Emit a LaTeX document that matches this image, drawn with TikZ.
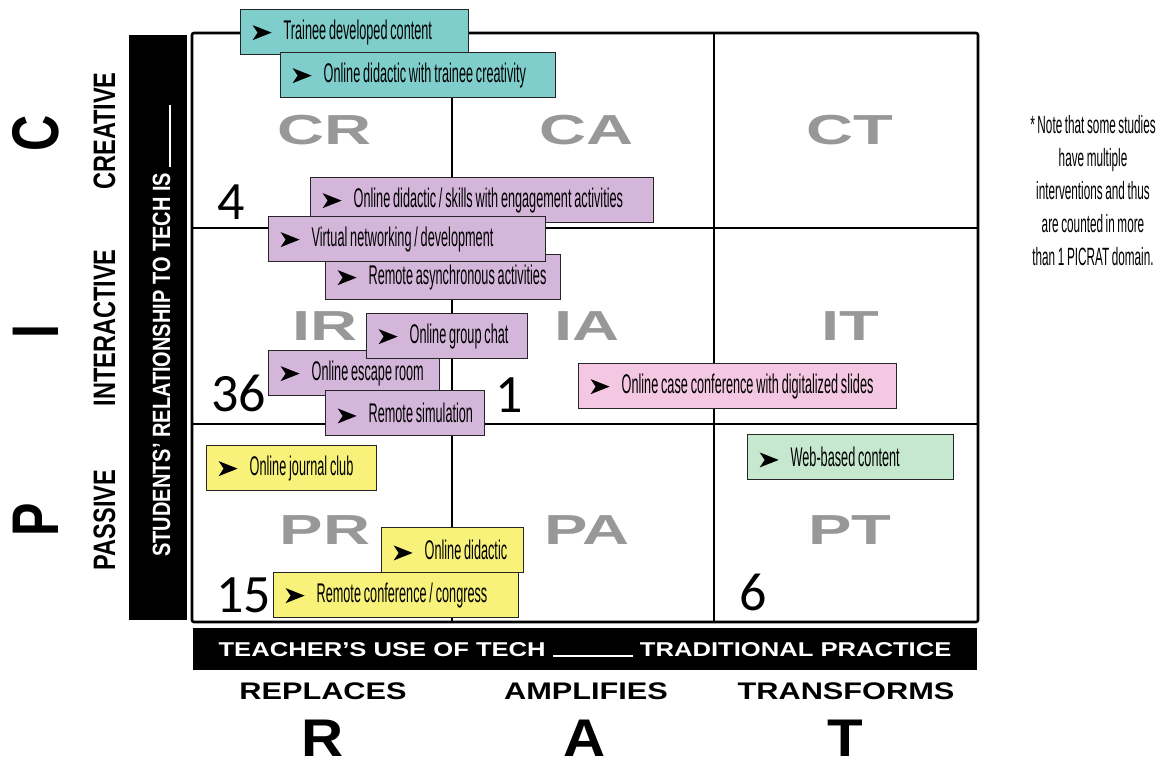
\documentclass[tikz,border=0pt]{standalone}
\usepackage{fontspec}
\setmainfont{Liberation Sans}
\newfontfamily\hand[FakeStretch=0.47,WordSpace=0.8]{Liberation Sans}
\newfontfamily\narrowb[FakeStretch=0.76]{Liberation Sans}
\newfontfamily\barb[FakeStretch=0.8]{Liberation Sans}
\newfontfamily\wideb[FakeStretch=1.28]{Liberation Sans}
\newfontfamily\xwideb[FakeStretch=1.55]{Liberation Sans}
\newfontfamily\ratb[FakeStretch=1.1]{Liberation Sans}
\newfontfamily\numf{Carlito}
\definecolor{tealbox}{RGB}{128,206,204}
\definecolor{purplebox}{RGB}{212,182,218}
\definecolor{pinkbox}{RGB}{244,200,226}
\definecolor{greenbox}{RGB}{198,232,206}
\definecolor{yellowbox}{RGB}{248,242,122}
\definecolor{cellgray}{RGB}{152,152,152}
\newcommand\arw{\tikz[x=1pt,y=1pt,baseline=1pt]{\fill[black] (0,0) -- (19,7.5) -- (0,15) -- (5,7.5) -- cycle;}\hspace{12pt}}
\newcommand\tg[2]{\makebox[#1][l]{\arw #2}}
\tikzset{
  tagbox/.style={draw=black!85, line width=1.3pt, anchor=north west, minimum height=45pt,
    inner xsep=12pt, inner ysep=0pt, font=\hand\fontsize{27}{27}\selectfont},
  grid/.style={line width=2.6pt, black},
  cell/.style={anchor=base, text=cellgray, font=\xwideb\bfseries\fontsize{42}{42}\selectfont},
  side/.style={rotate=90, anchor=base, font=\narrowb\bfseries\fontsize{31}{31}\selectfont},
  bigside/.style={rotate=90, anchor=base, font=\narrowb\bfseries\fontsize{66}{66}\selectfont},
  bottomlab/.style={anchor=base, font=\wideb\bfseries\fontsize{24}{24}\selectfont},
  ratlab/.style={anchor=base, inner sep=0pt, text depth=0pt, font=\ratb\bfseries\fontsize{53}{53}\selectfont},
  count/.style={anchor=base west, font=\numf\fontsize{54}{54}\selectfont},
}
\begin{document}
\begin{tikzpicture}[x=1pt,y=-1pt]
\useasboundingbox (0,0) rectangle (1175,762);
% grid
\draw[grid, rounded corners=2pt] (192,33) rectangle (978,622);
\draw[grid] (452,33) -- (452,622) (714,33) -- (714,622);
\draw[grid] (192,228) -- (978,228) (192,424) -- (978,424);
% black bars
\fill[black] (129,35) rectangle (187,620);
\fill[black] (193,628) rectangle (977,670);
\node[rotate=90, anchor=base, text=white, font=\barb\bfseries\fontsize{25}{25}\selectfont] (ybar) at (170,331) {STUDENTS’ RELATIONSHIP TO TECH IS \rule[-1pt]{62pt}{1.6pt}};
\node[anchor=base, text=white, font=\wideb\bfseries\fontsize{20}{20}\selectfont] (xbar) at (585,656) {TEACHER’S USE OF TECH \rule[-1pt]{80pt}{1.8pt} TRADITIONAL PRACTICE};
% side labels
\node[side] (cre) at (115,131) {CREATIVE};
\node[side] (int) at (115,328) {INTERACTIVE};
\node[side] (pas) at (115,520) {PASSIVE};
\node[bigside] (C) at (58,133) {C};
\node[bigside] (I) at (58,332) {I};
\node[bigside] (P) at (58,520) {P};
% bottom labels
\node[bottomlab] (rep) at (323,699) {REPLACES};
\node[bottomlab] (amp) at (586,699) {AMPLIFIES};
\node[bottomlab] (tra) at (846,699) {TRANSFORMS};
\node[ratlab] (R) at (323,756) {R};
\node[ratlab] (A) at (585,756) {A};
\node[ratlab] (T) at (845,756) {T};
% cell labels
\node[cell] (CR) at (325,145) {CR};
\node[cell] (CA) at (587,145) {CA};
\node[cell] (CT) at (850,145) {CT};
\node[cell] (IR) at (325,340) {IR};
\node[cell] (IA) at (587,340) {IA};
\node[cell] (IT) at (850,340) {IT};
\node[cell] (PR) at (325,544) {PR};
\node[cell] (PA) at (587,544) {PA};
\node[cell] (PT) at (850,544) {PT};
% counts
\node[count] (n4) at (214,220) {4};
\node[count] (n36) at (208,411) {36};
\node[count] (n1) at (492,412) {1};
\node[count] (n15) at (213,612) {15};
\node[count] (n6) at (736,610) {6};
% note
\node[align=center, font=\hand\fontsize{25}{33}\selectfont] (note) at (1093,191)
  {* Note that some studies\\have multiple\\interventions and thus\\are counted in more\\than 1 PICRAT domain.};
% tags
\node[tagbox, fill=tealbox] (t1) at (240,9) {\tg{204pt}{Trainee developed content}};
\node[tagbox, fill=tealbox] (t2) at (280,52) {\tg{251pt}{Online didactic with trainee creativity}};
\node[tagbox, fill=purplebox] (t3) at (310,177) {\tg{319pt}{Online didactic / skills with engagement activities}};
\node[tagbox, fill=purplebox] (t5) at (325,254) {\tg{211pt}{Remote asynchronous activities}};
\node[tagbox, fill=purplebox] (t4) at (268,216) {\tg{253pt}{Virtual networking / development}};
\node[tagbox, fill=purplebox] (t7) at (268,350) {\tg{147pt}{Online escape room}};
\node[tagbox, fill=purplebox] (t6) at (366,313) {\tg{137pt}{Online group chat}};
\node[tagbox, fill=purplebox] (t8) at (325,390) {\tg{135pt}{Remote simulation}};
\node[tagbox, fill=pinkbox] (t9) at (578,363) {\tg{294pt}{Online case conference with digitalized slides}};
\node[tagbox, fill=greenbox] (t10) at (747,434) {\tg{182pt}{Web-based content}};
\node[tagbox, fill=yellowbox] (t11) at (206,445) {\tg{146pt}{Online journal club}};
\node[tagbox, fill=yellowbox] (t12) at (381,527) {\tg{118pt}{Online didactic}};
\node[tagbox, fill=yellowbox] (t13) at (273,572) {\tg{221pt}{Remote conference / congress}};
\end{tikzpicture}
\end{document}
